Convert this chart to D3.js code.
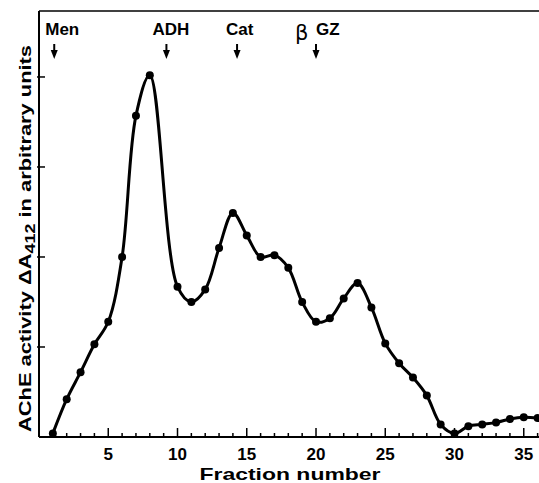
<!DOCTYPE html>
<html>
<head>
<meta charset="utf-8">
<script src="https://cdn.jsdelivr.net/npm/d3@7"></script>
<style>
    body { margin: 0; background: #fff; }
    text { font-family: "Liberation Sans", Arial, sans-serif; fill: #000; font-weight: bold; }
</style>
</head>
<body>
<div id="chart"></div>
<script>
// fraction numbers and AChE activity (arbitrary units)
let fractions = [1, 2, 3, 4, 5, 6, 7, 8, 10, 11, 12, 13, 14, 15, 16, 17, 18,
    19, 20, 21, 22, 23, 24, 25, 26, 27, 28, 29, 30, 31, 32, 33, 34, 35, 36];
let activity = [0.04, 0.42, 0.72, 1.03, 1.28, 2.00, 3.57, 4.02, 1.67, 1.50, 1.64, 2.10, 2.49, 2.24, 2.00, 2.02, 1.88,
    1.50, 1.28, 1.32, 1.54, 1.71, 1.44, 1.04, 0.82, 0.66, 0.46, 0.14, 0.04, 0.12, 0.14, 0.16, 0.20, 0.22, 0.21];

// marker proteins (elution position in fractions)
let marker_names = ["Men", "ADH", "Cat", "GZ"];
let marker_pos = [1.1, 9.2, 14.3, 20.0];

let x_ticks_major = [5, 10, 15, 20, 25, 30, 35];
let y_ticks = [1, 2, 3, 4];

// layout
let width = 539, height = 483;
let margin = {left: 39, right: 0, top: 11, bottom: 46};
let label_dx = [-9, -14, -11, 0];

let svg = d3.select("#chart").append("svg")
    .attr("width", width)
    .attr("height", height);

let x = d3.scaleLinear().domain([0, 36.1]).range([margin.left, width - margin.right]);
let y = d3.scaleLinear().domain([0, 4.733]).range([height - margin.bottom, margin.top]);

let data = fractions.map(function (f, i) { return {f: f, v: activity[i]}; });

// frame: left axis, bottom axis, top line
let y0 = y(0);
svg.append("line").attr("x1", x(0)).attr("x2", x(0)).attr("y1", margin.top).attr("y2", y0)
    .attr("stroke", "#000").attr("stroke-width", 2);
svg.append("line").attr("x1", x(0)).attr("x2", width).attr("y1", y0).attr("y2", y0)
    .attr("stroke", "#000").attr("stroke-width", 2);
svg.append("line").attr("x1", x(0)).attr("x2", width).attr("y1", margin.top).attr("y2", margin.top)
    .attr("stroke", "#000").attr("stroke-width", 1.5);

// x axis: ticks every fraction, longer every 5
let x_axis = svg.append("g").attr("transform", "translate(0," + y0 + ")");
x_axis.selectAll(".minor")
    .data(d3.range(1, 37))
    .enter().append("line")
    .attr("x1", function (d) { return x(d); })
    .attr("x2", function (d) { return x(d); })
    .attr("y1", 0)
    .attr("y2", function (d) { return d % 5 === 0 ? -9 : -4; })
    .attr("stroke", "#000").attr("stroke-width", 1.5);
x_axis.selectAll(".lab")
    .data(x_ticks_major)
    .enter().append("text")
    .attr("x", function (d) { return x(d); })
    .attr("y", 23)
    .attr("text-anchor", "middle")
    .style("font-size", "17px")
    .text(function (d) { return d; });

// y axis ticks (no labels)
svg.selectAll(".ytick")
    .data(y_ticks)
    .enter().append("line")
    .attr("x1", x(0) - 2).attr("x2", x(0) + 6)
    .attr("y1", function (d) { return y(d); })
    .attr("y2", function (d) { return y(d); })
    .attr("stroke", "#000").attr("stroke-width", 1.5);

// axis titles
svg.append("text")
    .attr("x", 290).attr("y", 480)
    .attr("text-anchor", "middle")
    .attr("textLength", 181).attr("lengthAdjust", "spacingAndGlyphs")
    .style("font-size", "17px")
    .text("Fraction  number");

let ylab = svg.append("text")
    .attr("transform", "translate(31,432) rotate(-90)")
    .attr("textLength", 387).attr("lengthAdjust", "spacingAndGlyphs")
    .style("font-size", "17px");
ylab.append("tspan").text("AChE  activity  \u0394A");
ylab.append("tspan").attr("dy", 4).style("font-size", "14px").text("412");
ylab.append("tspan").attr("dy", -4).text("  in  arbitrary  units");

// the elution curve
let line = d3.line()
    .x(function (d) { return x(d.f); })
    .y(function (d) { return y(d.v); })
    .curve(d3.curveCatmullRom.alpha(0.5));

svg.append("path")
    .datum(data)
    .attr("d", line)
    .attr("fill", "none")
    .attr("stroke", "#000")
    .attr("stroke-width", 3)
    .attr("stroke-linejoin", "round");

svg.selectAll(".dot")
    .data(data)
    .enter().append("circle")
    .attr("cx", function (d) { return x(d.f); })
    .attr("cy", function (d) { return y(d.v); })
    .attr("r", 4)
    .attr("fill", "#000");

// marker arrows and names
let markers = svg.selectAll(".marker")
    .data(marker_names)
    .enter().append("g")
    .attr("transform", function (d, i) { return "translate(" + x(marker_pos[i]) + ",0)"; });

markers.append("line")
    .attr("x1", 0).attr("x2", 0).attr("y1", 44).attr("y2", 52)
    .attr("stroke", "#000").attr("stroke-width", 2);
markers.append("path")
    .attr("d", "M-3.5,50L3.5,50L0,59Z")
    .attr("fill", "#000");

markers.append("text")
    .attr("x", function (d, i) { return label_dx[i]; })
    .attr("y", 35)
    .style("font-size", "17px")
    .text(function (d) { return d; });

// hand-drawn beta in front of GZ
markers.filter(function (d) { return d === "GZ"; })
    .append("text")
    .attr("x", -21).attr("y", 40)
    .style("font-family", "DejaVu Sans")
    .style("font-weight", "normal")
    .style("font-size", "21px")
    .text("\u03b2");
</script>
</body>
</html>
